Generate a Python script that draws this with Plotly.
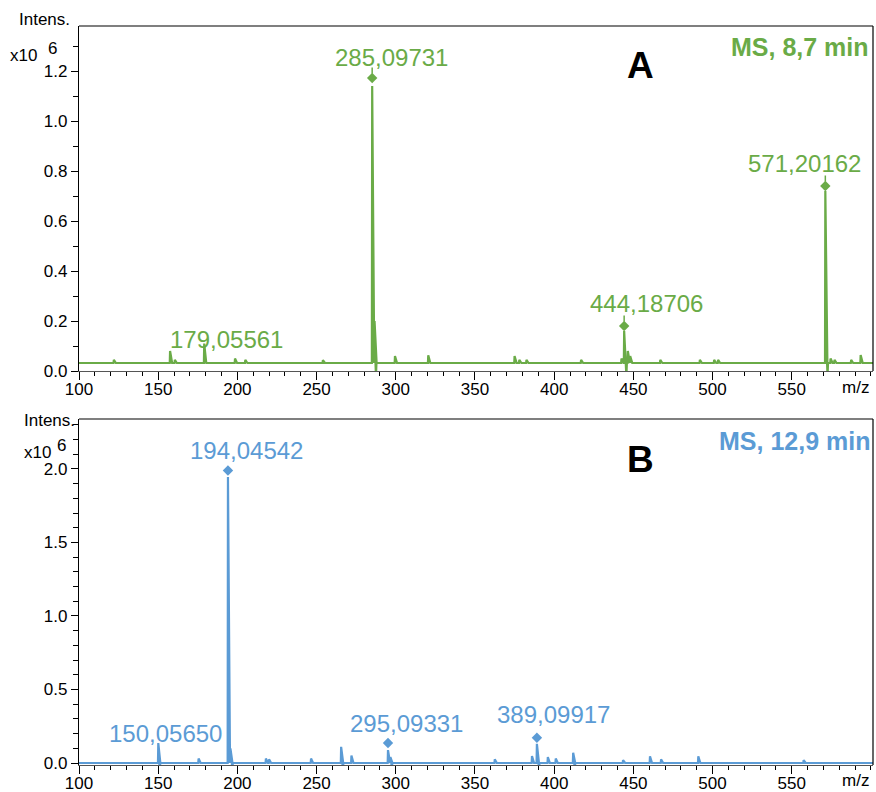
import plotly.graph_objects as go

# ---------------- data (intensities in units of 10^6) ----------------
x_ticks = [100, 150, 200, 250, 300, 350, 400, 450, 500, 550]
top_y_ticks = [0.0, 0.2, 0.4, 0.6, 0.8, 1.0, 1.2]
bot_y_ticks = [0.0, 0.5, 1.0, 1.5, 2.0]

top_baseline = 0.032
top_peak_mz = [122, 157.5, 160.5, 179.06, 198.5, 205, 254, 285.10, 286.6, 299.5,
               320.5, 375, 378, 382.5, 417, 442.5, 444.19, 446.5, 448, 467,
               492, 501, 503.5, 571.20, 574.5, 577, 587.5, 593.5]
top_peak_int = [0.045, 0.08, 0.045, 0.11, 0.05, 0.045, 0.043, 1.14, 0.20, 0.06,
                0.063, 0.06, 0.045, 0.045, 0.045, 0.05, 0.16, 0.08, 0.06, 0.045,
                0.045, 0.045, 0.045, 0.72, 0.05, 0.045, 0.045, 0.064]
top_dip_mz = [287.5, 445.6, 572.6]
top_dip_int = [-0.02, -0.02, -0.02]
top_marker_mz = [285.09731, 444.18706, 571.20162]
top_marker_int = [1.172, 0.18, 0.74]
top_label_mz = [179.05561, 285.09731, 444.18706, 571.20162]
top_label_int = [0.11, 1.172, 0.18, 0.74]
top_label_text = ["179,05561", "285,09731", "444,18706", "571,20162"]

bot_baseline = 0.0
bot_peak_mz = [150.06, 175.5, 194.05, 195.6, 218, 220, 246.5, 265.5, 272, 295.09,
               296.6, 362.5, 386, 389.10, 396, 401, 412, 443.5, 460.5, 467.5,
               491, 557.5]
bot_peak_int = [0.136, 0.03, 1.946, 0.10, 0.03, 0.025, 0.03, 0.11, 0.05, 0.088,
                0.04, 0.025, 0.048, 0.13, 0.04, 0.03, 0.07, 0.02, 0.045, 0.025,
                0.045, 0.02]
bot_dip_mz = [151.0, 196.8, 266.6, 297.5, 390.4, 413.0]
bot_dip_int = [-0.05, -0.05, -0.05, -0.05, -0.05, -0.05]
bot_marker_mz = [194.04542, 295.09331, 389.09917]
bot_marker_int = [1.99, 0.136, 0.172]
bot_label_mz = [150.05650, 194.04542, 295.09331, 389.09917]
bot_label_int = [0.136, 1.99, 0.136, 0.172]
bot_label_text = ["150,05650", "194,04542", "295,09331", "389,09917"]

# ---------------- style / layout ----------------
FONT = "Arial, 'Liberation Sans', sans-serif"
GREEN = "#6AAB47"
BLUE = "#5B9BD5"
W, H = 876, 792
L, R, T, B = 79, 3, 26, 27
PW, PH = W - L - R, H - T - B
X_RANGE = [100, 601.3]


def px(x):
    return (x - L) / PW


def py(y):
    return (H - B - y) / PH


def spectrum(base, pk_mz, pk_int, dip_mz, dip_int):
    events = [(m, v, "p") for m, v in zip(pk_mz, pk_int)] + \
             [(m, v, "d") for m, v in zip(dip_mz, dip_int)]
    events.sort()
    xs, ys = [X_RANGE[0]], [base]
    for m, v, kind in events:
        if kind == "p":
            xs += [m - 0.2, m, m + 1.3]
        else:
            xs += [m - 0.3, m, m + 0.3]
        ys += [base, v, base]
    xs.append(X_RANGE[1])
    ys.append(base)
    return xs, ys


fig = go.Figure()

tx, ty = spectrum(top_baseline, top_peak_mz, top_peak_int, top_dip_mz, top_dip_int)
bx, by = spectrum(bot_baseline, bot_peak_mz, bot_peak_int, bot_dip_mz, bot_dip_int)

fig.add_trace(go.Scatter(x=tx, y=ty, mode="lines", fill="toself", fillcolor=GREEN,
                         line=dict(color=GREEN, width=2.2), xaxis="x", yaxis="y",
                         hoverinfo="skip", showlegend=False))
fig.add_trace(go.Scatter(x=top_marker_mz, y=top_marker_int, mode="markers",
                         marker=dict(symbol="diamond", size=8, color=GREEN),
                         xaxis="x", yaxis="y", showlegend=False))
fig.add_trace(go.Scatter(x=bx, y=by, mode="lines", fill="toself", fillcolor=BLUE,
                         line=dict(color=BLUE, width=2.2), xaxis="x2", yaxis="y2",
                         hoverinfo="skip", showlegend=False))
fig.add_trace(go.Scatter(x=bot_marker_mz, y=bot_marker_int, mode="markers",
                         marker=dict(symbol="diamond", size=8, color=BLUE),
                         xaxis="x2", yaxis="y2", showlegend=False))

tickfont = dict(family=FONT, size=17, color="black")


def xaxis(anchor):
    return dict(anchor=anchor, domain=[0, 1], range=X_RANGE, tickmode="array",
                tickvals=x_ticks, ticktext=[str(v) for v in x_ticks],
                ticks="outside", ticklen=8, tickwidth=1, tickcolor="black",
                ticklabelstandoff=-6,
                showline=True, linecolor="#555555", linewidth=1.2,
                showgrid=False, zeroline=False, tickfont=tickfont, automargin=False,
                minor=dict(tick0=100, dtick=10, ticks="outside", ticklen=4,
                           tickwidth=1, tickcolor="black", showgrid=False))


def yaxis(anchor, domain, rng, vals):
    return dict(anchor=anchor, domain=domain, range=rng, tickmode="array",
                tickvals=vals, ticktext=[f"{v:.1f}" for v in vals],
                ticks="outside", ticklen=7, tickwidth=1, tickcolor="black",
                showline=True, linecolor="black", linewidth=1.2,
                showgrid=False, zeroline=False, tickfont=tickfont, automargin=False,
                minor=dict(tick0=0, dtick=0.1, ticks="outside", ticklen=5,
                           tickwidth=1, tickcolor="black", showgrid=False))


top_dom = [py(371), 1]
bot_dom = [0, py(419)]

shapes = []
for xr, yr in (("x", "y"), ("x2", "y2")):
    shapes.append(dict(type="line", xref=xr + " domain", yref=yr + " domain",
                       x0=0, x1=1, y0=1, y1=1, line=dict(color="black", width=1.2)))
    shapes.append(dict(type="line", xref=xr + " domain", yref=yr + " domain",
                       x0=1, x1=1, y0=0, y1=1, line=dict(color="black", width=1.2)))
for m, v in zip(top_marker_mz, top_marker_int):
    shapes.append(dict(type="line", xref="x", yref="y", x0=m, x1=m,
                       y0=v + 0.018, y1=v + 0.042, line=dict(color=GREEN, width=1.5)))

annotations = []
top_shifts = [(22, 4), (19, 21), (22, 23), (-21, 23)]
for m, v, t, (dx, dy) in zip(top_label_mz, top_label_int, top_label_text, top_shifts):
    annotations.append(dict(x=m, y=v, xref="x", yref="y", text=t, showarrow=False,
                            xanchor="center", yanchor="middle", xshift=dx, yshift=dy,
                            font=dict(family=FONT, size=24, color=GREEN)))
bot_shifts = [(7, 10), (19, 20), (18, 20), (17, 23)]
for m, v, t, (dx, dy) in zip(bot_label_mz, bot_label_int, bot_label_text, bot_shifts):
    annotations.append(dict(x=m, y=v, xref="x2", yref="y2", text=t, showarrow=False,
                            xanchor="center", yanchor="middle", xshift=dx, yshift=dy,
                            font=dict(family=FONT, size=24, color=BLUE)))


def ptext(text, x, y, size, color="black", xanchor="center", bold=False):
    if bold:
        text = f"<b>{text}</b>"
    annotations.append(dict(x=px(x), y=py(y), xref="paper", yref="paper", text=text,
                            showarrow=False, xanchor=xanchor, yanchor="middle",
                            font=dict(family=FONT, size=size, color=color)))


# top panel texts
ptext("Intens.", 72, 19, 17, xanchor="right")
ptext("x10", 39, 56, 17, xanchor="right")
ptext("6", 52.5, 48, 17)
ptext("A", 640, 66, 37, bold=True)
ptext("MS, 8,7 min", 871, 47, 25, color=GREEN, xanchor="right", bold=True)
ptext("m/z", 871, 387, 17, xanchor="right")
# bottom panel texts
ptext("Intens.", 77, 420, 17, xanchor="right")
ptext("x10", 53, 452, 17, xanchor="right")
ptext("6", 61, 446, 17)
ptext("B", 640, 459, 37, bold=True)
ptext("MS, 12,9 min", 872, 441, 25, color=BLUE, xanchor="right", bold=True)
ptext("m/z", 871, 781, 17, xanchor="right")

fig.update_layout(
    width=W, height=H,
    margin=dict(l=L, r=R, t=T, b=B, pad=0, autoexpand=False),
    paper_bgcolor="white", plot_bgcolor="white",
    font=dict(family=FONT, size=17, color="black"),
    xaxis=xaxis("y"),
    yaxis=yaxis("x", top_dom, [0, 1.38], top_y_ticks),
    xaxis2=xaxis("y2"),
    yaxis2=yaxis("x2", bot_dom, [-0.0136, 2.34], bot_y_ticks),
    shapes=shapes,
    annotations=annotations,
    showlegend=False,
)

fig.write_html(
    "out.html",
    config={"displayModeBar": False},
    post_script="document.body.style.margin='0';document.body.style.overflow='hidden';",
)
